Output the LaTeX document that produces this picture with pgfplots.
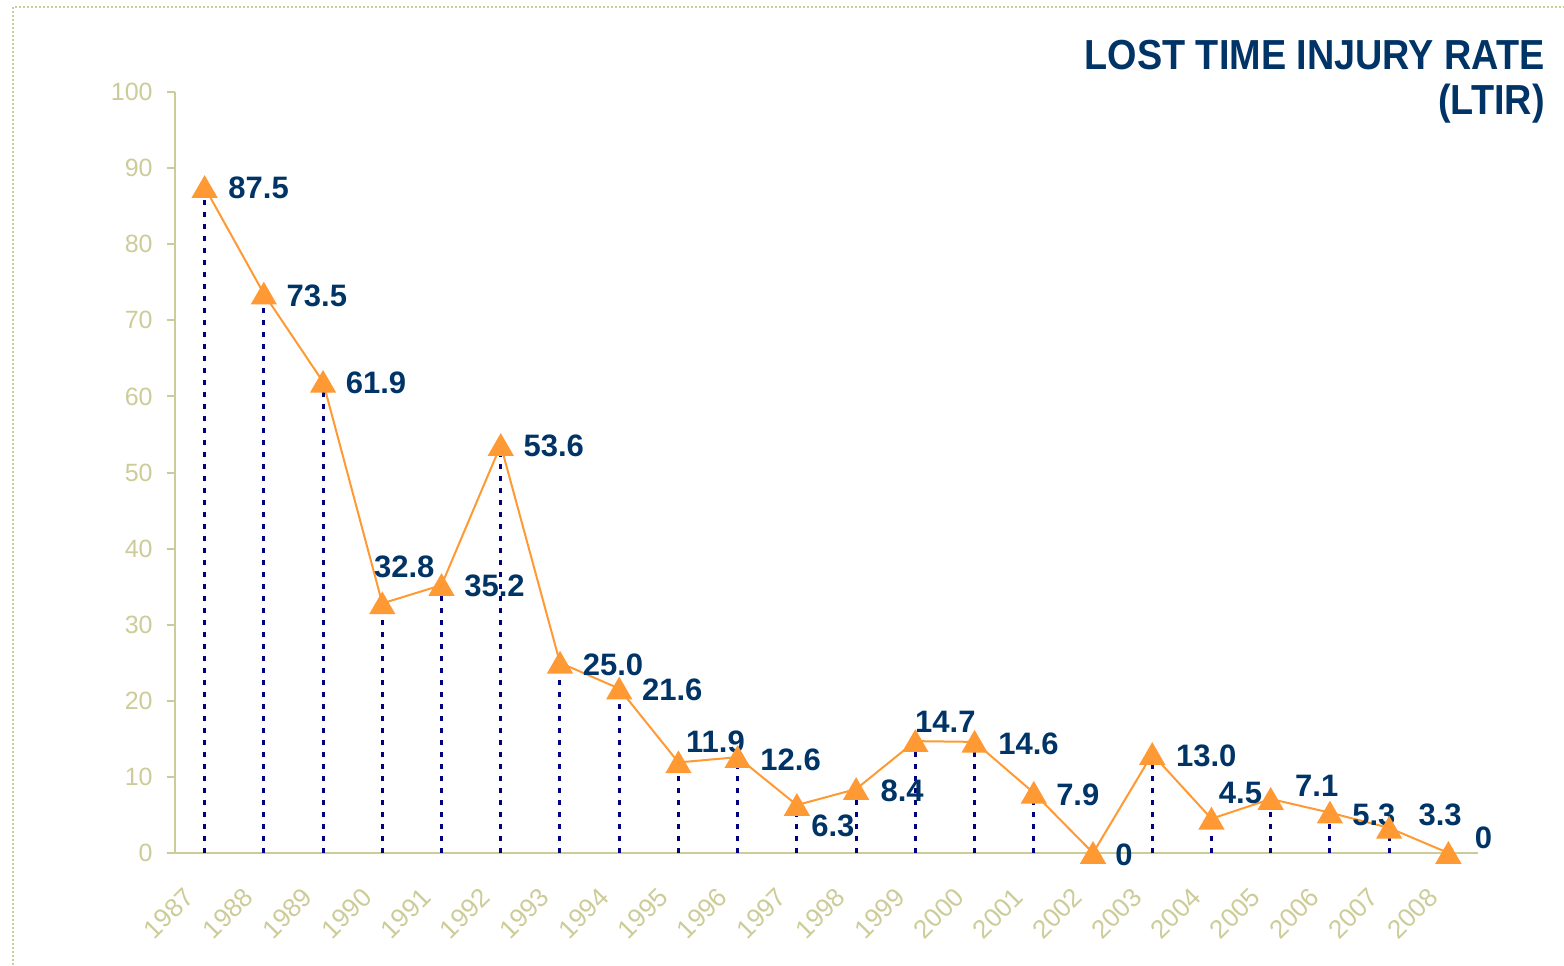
\documentclass[border=0pt]{standalone}
\usepackage{pgfplots}
\pgfplotsset{compat=1.18}
\usepackage{pgfplotstable}
\usepackage{fontspec}
\setmainfont{Liberation Sans}
\newfontfamily\titlefont[FakeStretch=0.9]{Liberation Sans}
\definecolor{axiscol}{RGB}{204,204,153}
\definecolor{navytext}{RGB}{0,51,102}
\definecolor{orangeline}{RGB}{255,153,51}
\definecolor{dropcol}{RGB}{0,0,128}

\pgfplotstableread{
x y dx dy lab
0.5 87.5 27 -0.5 87.5
1.5 73.5 26.5 -1 73.5
2.5 61.9 26.5 -0.5 61.9
3.5 32.8 11 18.5 32.8
4.5 35.2 26.5 -0.5 35.2
5.5 53.6 26.5 -0.5 53.6
6.5 25.0 26.5 -1 25.0
7.5 21.6 26.5 -0.5 21.6
8.5 11.9 18.5 10.5 11.9
9.5 12.6 26.5 -1.5 12.6
10.5 6.3 18 -10.5 6.3
11.5 8.4 23 -1 8.4
12.5 14.7 15 9.5 14.7
13.5 14.6 27 -1 14.6
14.5 7.9 22 -1 7.9
15.5 0 15.5 -1 0
16.5 13.0 27 -1 13.0
17.5 4.5 14.5 13 4.5
18.5 7.1 23 6.5 7.1
19.5 5.3 22 -1 5.3
20.5 3.3 25.5 6.5 3.3
21.5 0 17.5 7.5 0
}\ltir

\begin{document}
\begin{tikzpicture}
\useasboundingbox (-87.5pt,-56pt) rectangle (694.5pt,426.5pt);
\draw[axiscol, line width=0.9pt, dash pattern=on 0.9pt off 1.1pt] (-81pt,-56pt) -- (-81pt,423pt) -- (694.5pt,423pt);
\begin{axis}[
  at={(0,0)}, anchor=south west,
  scale only axis, width=651.5pt, height=380.5pt,
  xmin=0, xmax=22, ymin=0, ymax=100,
  clip=false,
  axis x line*=bottom, axis y line*=left,
  axis line style={axiscol, line width=1pt, -},
  tick align=outside,
  ytick={0,10,...,100},
  major tick length=4pt,
  ytick style={axiscol, line width=1pt},
  xtick={0.5,1.5,...,21.5},
  xticklabels={1987,1988,1989,1990,1991,1992,1993,1994,1995,1996,1997,1998,1999,2000,2001,2002,2003,2004,2005,2006,2007,2008},
  xtick style={draw=none},
  minor xtick={0,1,...,22},
  minor tick length=4.5pt,
  minor x tick style={axiscol, line width=1pt},
  /pgf/number format/assume math mode=true,
  yticklabel style={font=\fontsize{12.5}{12.5}\selectfont, text=axiscol, inner sep=0pt, anchor=east, xshift=-7pt},
  xticklabel style={font=\fontsize{13}{13}\selectfont, text=axiscol, inner sep=0pt, xshift=-7.5pt, yshift=-15.8pt, rotate=45, anchor=east},
]
\addplot[ycomb, dropcol, line width=1.5pt, dash pattern=on 2.3pt off 3.7pt] table[x=x,y=y]{\ltir};
\addplot[orangeline, line width=1pt, mark=triangle*, mark size=6.6pt,
  mark options={fill=orangeline, draw=orangeline, solid, yshift=-1.6pt},
  visualization depends on={\thisrow{dx} \as \dx},
  visualization depends on={\thisrow{dy} \as \dy},
  nodes near coords, point meta=explicit symbolic,
  nodes near coords style={anchor=center, inner sep=0pt, xshift=\dx pt, yshift={\dy pt+1.6pt},
    font=\fontsize{15.5}{15.5}\selectfont\bfseries, text=navytext},
] table[x=x,y=y,meta=lab]{\ltir};
\end{axis}
\node[anchor=north east, align=right, inner sep=0pt, text=navytext,
  font=\titlefont\fontsize{21}{22.5}\selectfont\bfseries] at (685pt,406.5pt) {LOST TIME INJURY RATE\\(LTIR)};
\end{tikzpicture}
\end{document}
